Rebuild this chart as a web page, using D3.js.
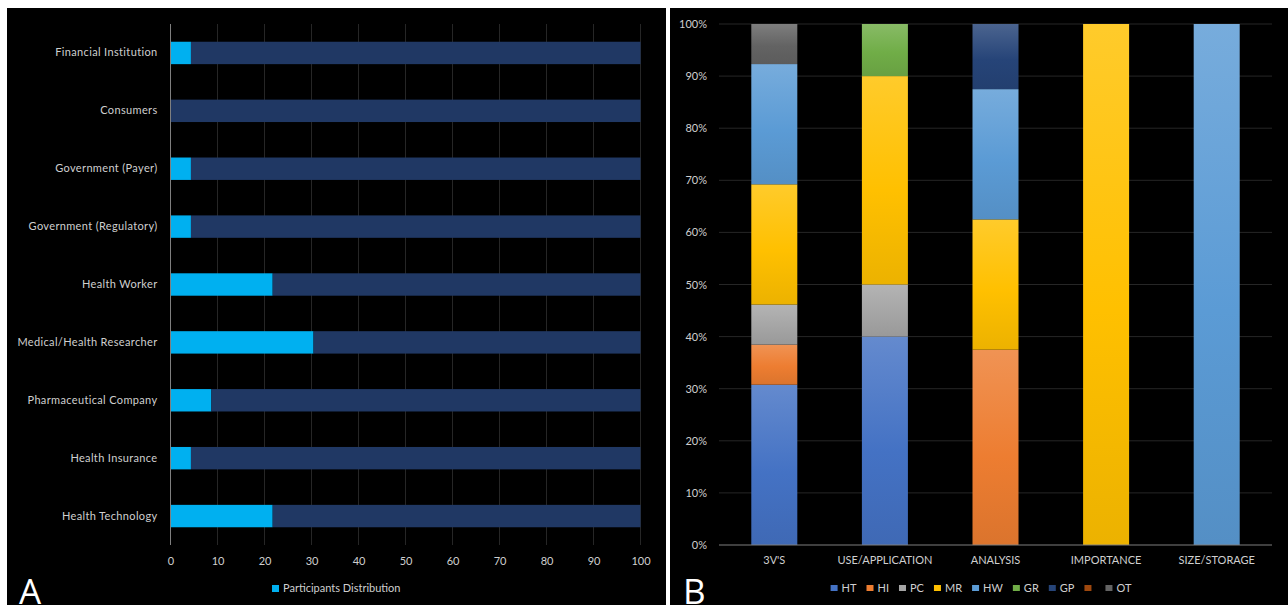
<!DOCTYPE html>
<html>
<head>
<meta charset="utf-8">
<script src="https://cdn.jsdelivr.net/npm/d3@7"></script>
<style>
  html, body { margin: 0; padding: 0; background: #ffffff; }
  svg { display: block; }
  text { font-family: Lato, "Open Sans", sans-serif; }
</style>
</head>
<body>
<svg id="fig" width="1288" height="605"></svg>
<script>
// ---- Panel A: participants by stakeholder group (% of participants) ----
const groups = [
  "Financial Institution", "Consumers", "Government (Payer)",
  "Government (Regulatory)", "Health Worker", "Medical/Health Researcher",
  "Pharmaceutical Company", "Health Insurance", "Health Technology"
];
const participantShare = [4.35, 0, 4.35, 4.35, 21.74, 30.43, 8.70, 4.35, 21.74];
const remainderShare   = [95.65, 100, 95.65, 95.65, 78.26, 69.57, 91.30, 95.65, 78.26];
const shareTicks = [0, 10, 20, 30, 40, 50, 60, 70, 80, 90, 100];
const legendA = "Participants Distribution";

// ---- Panel B: themes by stakeholder group (share of responses, %) ----
const themes = ["3V'S", "USE/APPLICATION", "ANALYSIS", "IMPORTANCE", "SIZE/STORAGE"];
const seriesLabels = ["HT", "HI", "PC", "MR", "HW", "GR", "GP", "", "OT"];
const HT  = [30.77, 40, 0,    0,   0];
const HI  = [7.69,  0,  37.5, 0,   0];
const PC  = [7.69,  10, 0,    0,   0];
const MR  = [23.08, 40, 25,   100, 0];
const HW  = [23.08, 0,  25,   0,   100];
const GR  = [0,     10, 0,    0,   0];
const GP  = [0,     0,  12.5, 0,   0];
const S8  = [0,     0,  0,    0,   0];
const OT  = [7.69,  0,  0,    0,   0];
const seriesValues = [HT, HI, PC, MR, HW, GR, GP, S8, OT];
const seriesColors = ["#4472C4", "#ED7D31", "#A5A5A5", "#FFC000", "#5B9BD5",
                      "#70AD47", "#264478", "#9E480E", "#636363"];
const percentTicks = [0, 10, 20, 30, 40, 50, 60, 70, 80, 90, 100];

const svg = d3.select("#fig");
const TEXT = "#cfcfcf";
const GRID = "#262626";
const AXIS = "#7f7f7f";

// panel backgrounds
svg.append("rect").attr("x", 7).attr("y", 8).attr("width", 659).attr("height", 597).attr("fill", "#000");
svg.append("rect").attr("x", 670).attr("y", 8).attr("width", 618).attr("height", 597).attr("fill", "#000");

// ================= Panel A =================
const gA = svg.append("g");
const xA = d3.scaleLinear().domain([0, 100]).range([170.5, 640.5]);
const yA = d3.scaleBand().domain(groups).range([24, 545]).paddingInner(0.613).paddingOuter(0.3065);

gA.append("g").selectAll("line").data(shareTicks.filter(d => d > 0)).join("line")
  .attr("x1", d => xA(d)).attr("x2", d => xA(d))
  .attr("y1", 24).attr("y2", 545)
  .attr("stroke", GRID).attr("stroke-width", 1);

const rowsA = groups.map((g, i) => ({ group: g, part: participantShare[i], rest: remainderShare[i] }));
const stackA = d3.stack().keys(["part", "rest"])(rowsA);
const colorsA = { part: "#00B0F0", rest: "#203864" };

gA.append("g").selectAll("g").data(stackA).join("g")
  .attr("fill", s => colorsA[s.key])
  .selectAll("rect").data(s => s).join("rect")
  .attr("x", d => xA(d[0]))
  .attr("width", d => Math.max(0, xA(d[1]) - xA(d[0])))
  .attr("y", d => yA(d.data.group))
  .attr("height", yA.bandwidth());

gA.append("line")
  .attr("x1", xA(0)).attr("x2", xA(0)).attr("y1", 24).attr("y2", 545)
  .attr("stroke", AXIS).attr("stroke-width", 1);

const axA = gA.append("g").attr("transform", "translate(0,545)")
  .call(d3.axisBottom(xA).tickValues(shareTicks).tickSize(0).tickPadding(12));
axA.select(".domain").remove();
axA.selectAll("text").attr("fill", TEXT).style("font-size", "11px").style("font-family", "Lato, sans-serif");

const ayA = gA.append("g").attr("transform", `translate(${xA(0)},0)`)
  .call(d3.axisLeft(yA).tickSize(0).tickPadding(13));
ayA.select(".domain").remove();
ayA.selectAll("text").attr("fill", TEXT).style("font-size", "11px")
  .style("font-family", "Lato, sans-serif").style("letter-spacing", "0.35px");

gA.append("rect").attr("x", 272).attr("y", 585).attr("width", 7).attr("height", 7).attr("fill", "#00B0F0");
gA.append("text").attr("x", 283).attr("y", 588).attr("dy", "0.35em")
  .attr("fill", TEXT).style("font-size", "11px").text(legendA);

// panel letter
gA.append("text").attr("x", 19).attr("y", 604).attr("fill", "#fff")
  .style("font-size", "35px").style("font-family", "'Open Sans', sans-serif").text("A");

// ================= Panel B =================
const gB = svg.append("g");
const xB = d3.scaleBand().domain(themes).range([719, 1272]).paddingInner(0.584).paddingOuter(0.292);
const yB = d3.scaleLinear().domain([0, 100]).range([545, 24]);

// vertical gradient per series: lighter at the top of each segment, deeper at its base
const defs = svg.append("defs");
seriesColors.forEach((c, i) => {
  const gr = defs.append("linearGradient").attr("id", "grad" + i)
    .attr("x1", 0).attr("y1", 0).attr("x2", 0).attr("y2", 1);
  gr.append("stop").attr("offset", "0%").attr("stop-color", d3.interpolateRgb(c, "#ffffff")(0.17));
  gr.append("stop").attr("offset", "55%").attr("stop-color", c);
  gr.append("stop").attr("offset", "100%").attr("stop-color", d3.color(c).darker(0.22).formatHex());
});

gB.append("g").selectAll("line").data(percentTicks.filter(d => d > 0)).join("line")
  .attr("x1", 719).attr("x2", 1272)
  .attr("y1", d => yB(d)).attr("y2", d => yB(d))
  .attr("stroke", GRID).attr("stroke-width", 1);

const rowsB = themes.map((t, j) => {
  const r = { theme: t };
  seriesValues.forEach((arr, i) => { r["s" + i] = arr[j]; });
  return r;
});
const keysB = seriesValues.map((_, i) => "s" + i);
const stackB = d3.stack().keys(keysB)(rowsB);

gB.append("g").selectAll("g").data(stackB).join("g")
  .attr("fill", (s, i) => `url(#grad${i})`)
  .selectAll("rect").data(s => s.filter(d => d[1] - d[0] > 0)).join("rect")
  .attr("x", d => xB(d.data.theme))
  .attr("width", xB.bandwidth())
  .attr("y", d => yB(d[1]))
  .attr("height", d => yB(d[0]) - yB(d[1]));

gB.append("line").attr("x1", 719).attr("x2", 1272).attr("y1", yB(0)).attr("y2", yB(0))
  .attr("stroke", AXIS).attr("stroke-width", 1);

const ayB = gB.append("g").attr("transform", "translate(719,0)")
  .call(d3.axisLeft(yB).tickValues(percentTicks).tickSize(0).tickPadding(12).tickFormat(d => d + "%"));
ayB.select(".domain").remove();
ayB.selectAll("text").attr("fill", TEXT).style("font-size", "11px").style("font-family", "Lato, sans-serif");

const axB = gB.append("g").attr("transform", "translate(0,545)")
  .call(d3.axisBottom(xB).tickSize(0).tickPadding(11));
axB.select(".domain").remove();
axB.selectAll("text").attr("fill", TEXT).style("font-size", "11px").style("font-family", "Lato, sans-serif");

// legend, laid out from measured label widths and centred under the plot
const legB = gB.append("g");
const items = legB.selectAll("g").data(seriesLabels).join("g");
items.append("rect").attr("width", 7).attr("height", 6).attr("y", -3)
  .attr("fill", (d, i) => seriesColors[i]);
items.append("text").attr("x", 11).attr("dy", "0.35em")
  .attr("fill", TEXT).style("font-size", "11px").text(d => d);
let cursor = 0;
items.each(function () {
  const w = d3.select(this).select("text").node().getComputedTextLength();
  d3.select(this).attr("transform", `translate(${cursor},588)`);
  cursor += 11 + w + 10;
});
const legW = cursor - 10;
legB.attr("transform", `translate(${981 - legW / 2},0)`);

// panel letter
gB.append("text").attr("x", 683).attr("y", 604).attr("fill", "#fff")
  .style("font-size", "35px").style("font-family", "'Open Sans', sans-serif").text("B");
</script>
</body>
</html>
